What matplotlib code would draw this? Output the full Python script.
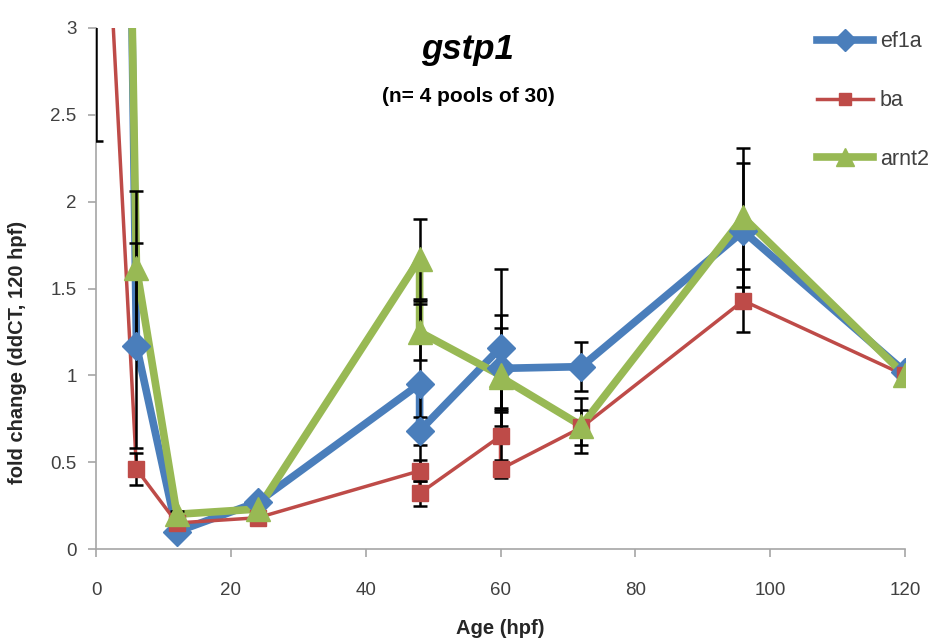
import numpy as np
import matplotlib
matplotlib.use('Agg')
import matplotlib.pyplot as plt

plt.rcParams['font.family'] = ['Liberation Sans', 'DejaVu Sans']

# age points (48 and 60 hpf were sampled twice)
age = [0, 6, 12, 24, 48, 48, 60, 60, 72, 96, 120]

ef1a     = [18.0, 1.17, 0.10, 0.27, 0.95, 0.68, 1.16, 1.04, 1.05, 1.83, 1.02]
ef1a_err = [1.0, 0.59, 0.02, 0.02, 0.48, 0.08, 0.45, 0.23, 0.14, 0.39, 0.0]
ba       = [4.9, 0.46, 0.15, 0.18, 0.45, 0.32, 0.65, 0.46, 0.70, 1.43, 1.00]
ba_err   = [2.55, 0.09, 0.02, 0.02, 0.06, 0.07, 0.15, 0.05, 0.10, 0.18, 0.0]
arnt2     = [15.0, 1.62, 0.20, 0.23, 1.67, 1.25, 1.00, 0.99, 0.71, 1.91, 1.00]
arnt2_err = [1.0, 0.44, 0.02, 0.02, 0.23, 0.16, 0.35, 0.20, 0.16, 0.40, 0.0]

series = [
    ('ef1a', ef1a, ef1a_err, '#4a7ebb', 'D', 5.5, 14),
    ('ba', ba, ba_err, '#be4b48', 's', 2.5, 11.5),
    ('arnt2', arnt2, arnt2_err, '#98b954', '^', 5.5, 17),
]

fig = plt.figure(figsize=(9.3, 6.44), dpi=100)
ax = fig.add_axes([96/930, 1-549/644, (905-96)/930, (549-28)/644])

handles = []
for i, (name, vals, err, col, mk, lw, ms) in enumerate(series):
    ax.plot(age, vals, color=col, lw=lw, zorder=2 + i*0.1, solid_joinstyle='round')
    ax.errorbar(age, vals, yerr=err, fmt='none', ecolor='black', elinewidth=1.8,
                capsize=5, capthick=1.8, zorder=3)
    ax.plot(age, vals, ls='none', marker=mk, ms=ms, color=col, mec=col, zorder=4 + i*0.1)
    h, = plt.plot([], [], color=col, lw=lw, marker=mk, ms=ms*0.8)
    handles.append(h)

ax.set_xlim(0, 120)
ax.set_ylim(0, 3)
ax.set_xticks(np.arange(0, 121, 20))
ax.set_yticks([0, 0.5, 1, 1.5, 2, 2.5, 3])
ax.set_yticklabels(['0', '0.5', '1', '1.5', '2', '2.5', '3'])
for s in ['top', 'right']:
    ax.spines[s].set_visible(False)
for s in ['left', 'bottom']:
    ax.spines[s].set_color('#a6a6a6')
    ax.spines[s].set_linewidth(1.2)
ax.spines['left'].set_zorder(1)
ax.tick_params(direction='out', length=6, width=1.2, color='#a6a6a6',
               labelsize=13.5, labelcolor='#404040', pad=8)
ax.tick_params(axis='x', pad=18)

ax.set_xlabel('Age (hpf)', fontsize=14.5, fontweight='bold', color='#262626', labelpad=14)
fig.text(18/930, 1-352/644, 'fold change (ddCT, 120 hpf)', rotation=90, fontsize=14.5,
         fontweight='bold', color='#262626', ha='center', va='center')

fig.text(468/930, 1-50/644, 'gstp1', fontsize=25, fontweight='bold', style='italic',
         ha='center', va='center')
fig.text(468/930, 1-96/644, '(n= 4 pools of 30)', fontsize=15, fontweight='bold',
         ha='center', va='center')

fig.legend(handles, ['ef1a', 'ba', 'arnt2'], loc='upper left',
           bbox_to_anchor=(798/930, 1-12/644), frameon=False, fontsize=15.5,
           labelspacing=1.75, handlelength=2.6, handletextpad=0.3,
           labelcolor='#404040')

fig.savefig('out.png', dpi=100)
